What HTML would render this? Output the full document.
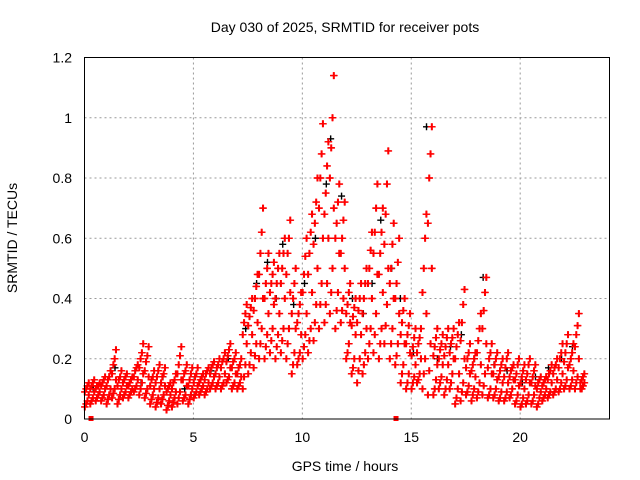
<!DOCTYPE html>
<html><head><meta charset="utf-8"><style>
body{margin:0;background:#fff}
svg{display:block;font-family:"Liberation Sans",sans-serif}
</style></head><body>
<svg id="c" width="640" height="480">
<text x="345" y="32" text-anchor="middle" font-size="14">Day 030 of 2025, SRMTID for receiver pots</text>
<text x="345" y="471" text-anchor="middle" font-size="14">GPS time / hours</text>
<text x="17" y="238" text-anchor="middle" font-size="14" transform="rotate(-90 17 238)">SRMTID / TECUs</text>
<g id="grid"></g><g id="pts"></g>
<rect x="84.5" y="57.5" width="525" height="361.5" fill="none" stroke="#000"/>
<g id="ticks"></g>
</svg>
<script>
const xTicks=[0,5,10,15,20];
const yTicks=[0,0.2,0.4,0.6,0.8,1,1.2];
const yTickLabels=["0","0.2","0.4","0.6","0.8","1","1.2"];
const times=[0,0.25,0.5,0.75,1,1.25,1.5,1.75,2,2.25,2.5,2.75,3,3.25,3.5,3.75,4,4.25,4.5,4.75,5,5.25,5.5,5.75,6,6.25,6.5,6.75,7,7.25,7.5,7.75,8,8.25,8.5,8.75,9,9.25,9.5,9.75,10,10.25,10.5,10.75,11,11.25,11.5,11.75,12,12.25,12.5,12.75,13,13.25,13.5,13.75,14,14.25,14.5,14.75,15,15.25,15.5,15.75,16,16.25,16.5,16.75,17,17.25,17.5,17.75,18,18.25,18.5,18.75,19,19.25,19.5,19.75,20,20.25,20.5,20.75,21,21.25,21.5,21.75,22,22.25,22.5,22.75];
const redHi=[0.12,0.13,0.12,0.14,0.16,0.23,0.16,0.15,0.14,0.18,0.25,0.24,0.16,0.18,0.17,0.12,0.15,0.24,0.18,0.17,0.17,0.15,0.17,0.19,0.2,0.22,0.25,0.22,0.2,0.38,0.4,0.48,0.7,0.55,0.52,0.55,0.6,0.66,0.5,0.42,0.6,0.68,0.8,0.98,0.92,1.14,0.78,0.72,0.45,0.4,0.45,0.5,0.62,0.78,0.7,0.89,0.65,0.6,0.4,0.35,0.3,0.3,0.68,0.97,0.3,0.28,0.3,0.3,0.32,0.43,0.25,0.22,0.35,0.47,0.25,0.22,0.2,0.22,0.18,0.2,0.18,0.2,0.18,0.14,0.14,0.18,0.2,0.25,0.28,0.25,0.35,0.15];
const redC=[0.11,0.12,0.11,0.13,0.14,0.2,0.14,0.14,0.13,0.17,0.22,0.21,0.14,0.16,0.15,0.11,0.13,0.21,0.16,0.15,0.15,0.14,0.16,0.18,0.18,0.2,0.23,0.2,0.18,0.35,0.37,0.44,0.62,0.5,0.48,0.5,0.55,0.6,0.45,0.38,0.54,0.62,0.72,0.88,0.84,1.0,0.72,0.66,0.42,0.37,0.4,0.45,0.56,0.7,0.62,0.78,0.58,0.52,0.36,0.31,0.27,0.27,0.6,0.88,0.27,0.25,0.27,0.27,0.28,0.38,0.22,0.2,0.3,0.42,0.22,0.2,0.18,0.2,0.17,0.18,0.16,0.18,0.16,0.13,0.13,0.16,0.18,0.22,0.25,0.22,0.31,0.14];
const redU=[0.1,0.11,0.11,0.12,0.13,0.18,0.13,0.13,0.12,0.16,0.2,0.19,0.13,0.14,0.14,0.1,0.12,0.18,0.15,0.13,0.14,0.13,0.15,0.17,0.17,0.19,0.21,0.19,0.17,0.32,0.34,0.4,0.55,0.45,0.45,0.45,0.5,0.55,0.4,0.35,0.48,0.55,0.65,0.8,0.75,0.9,0.65,0.6,0.38,0.34,0.36,0.4,0.5,0.62,0.55,0.68,0.5,0.45,0.32,0.28,0.24,0.25,0.5,0.8,0.24,0.23,0.24,0.25,0.24,0.32,0.2,0.18,0.26,0.36,0.2,0.18,0.16,0.17,0.16,0.15,0.14,0.15,0.14,0.12,0.12,0.15,0.17,0.2,0.22,0.2,0.28,0.13];
const redB=[0.09,0.1,0.1,0.11,0.11,0.15,0.11,0.12,0.11,0.14,0.17,0.16,0.11,0.12,0.12,0.09,0.1,0.15,0.13,0.11,0.12,0.12,0.13,0.15,0.15,0.17,0.19,0.17,0.15,0.28,0.31,0.36,0.48,0.4,0.42,0.4,0.45,0.48,0.35,0.32,0.42,0.48,0.58,0.7,0.68,0.8,0.6,0.55,0.35,0.31,0.32,0.35,0.45,0.55,0.48,0.58,0.45,0.4,0.28,0.25,0.21,0.22,0.42,0.65,0.21,0.2,0.21,0.22,0.2,0.26,0.17,0.16,0.22,0.3,0.17,0.15,0.14,0.14,0.14,0.13,0.12,0.13,0.12,0.1,0.11,0.13,0.15,0.17,0.19,0.18,0.24,0.12];
const redMid=[0.08,0.09,0.09,0.1,0.1,0.13,0.1,0.11,0.1,0.13,0.15,0.14,0.1,0.1,0.11,0.08,0.09,0.13,0.11,0.1,0.11,0.11,0.12,0.14,0.14,0.15,0.17,0.15,0.14,0.25,0.28,0.32,0.4,0.35,0.38,0.35,0.4,0.42,0.3,0.28,0.35,0.42,0.5,0.6,0.6,0.7,0.55,0.5,0.32,0.28,0.28,0.3,0.4,0.48,0.42,0.5,0.4,0.35,0.25,0.22,0.18,0.2,0.35,0.5,0.18,0.18,0.18,0.2,0.15,0.2,0.15,0.14,0.18,0.25,0.15,0.13,0.12,0.12,0.13,0.11,0.1,0.12,0.11,0.09,0.1,0.12,0.13,0.15,0.17,0.16,0.2,0.12];
const redQ=[0.06,0.07,0.08,0.08,0.08,0.1,0.08,0.09,0.09,0.11,0.12,0.1,0.08,0.07,0.08,0.06,0.07,0.09,0.08,0.08,0.09,0.1,0.1,0.12,0.12,0.12,0.14,0.12,0.12,0.18,0.22,0.25,0.3,0.28,0.3,0.28,0.3,0.3,0.22,0.22,0.28,0.3,0.38,0.45,0.45,0.5,0.42,0.4,0.25,0.2,0.2,0.22,0.3,0.35,0.3,0.38,0.3,0.25,0.18,0.15,0.14,0.15,0.2,0.25,0.13,0.14,0.13,0.15,0.1,0.12,0.11,0.1,0.12,0.15,0.1,0.1,0.09,0.09,0.1,0.08,0.07,0.08,0.08,0.07,0.08,0.09,0.1,0.12,0.13,0.13,0.14,0.11];
const redA=[0.05,0.06,0.07,0.07,0.065,0.085,0.065,0.08,0.08,0.1,0.1,0.085,0.065,0.055,0.065,0.045,0.055,0.07,0.07,0.065,0.08,0.09,0.09,0.11,0.11,0.11,0.13,0.11,0.11,0.14,0.18,0.21,0.25,0.24,0.26,0.24,0.26,0.25,0.18,0.2,0.24,0.26,0.32,0.38,0.38,0.42,0.36,0.36,0.22,0.17,0.16,0.18,0.25,0.28,0.25,0.31,0.25,0.21,0.15,0.12,0.12,0.13,0.15,0.16,0.1,0.12,0.1,0.12,0.07,0.09,0.09,0.08,0.09,0.11,0.08,0.08,0.07,0.07,0.08,0.06,0.05,0.06,0.06,0.05,0.07,0.08,0.09,0.1,0.11,0.11,0.12,0.1];
const redLo=[0.04,0.05,0.06,0.06,0.05,0.07,0.05,0.07,0.07,0.09,0.08,0.07,0.05,0.04,0.05,0.03,0.04,0.05,0.06,0.05,0.07,0.08,0.08,0.1,0.1,0.1,0.12,0.1,0.1,0.1,0.15,0.17,0.2,0.2,0.22,0.2,0.22,0.2,0.15,0.18,0.2,0.22,0.26,0.3,0.32,0.35,0.3,0.32,0.2,0.15,0.12,0.15,0.2,0.22,0.2,0.25,0.2,0.18,0.12,0.1,0.1,0.12,0.1,0.08,0.08,0.1,0.08,0.1,0.05,0.06,0.08,0.06,0.07,0.08,0.07,0.07,0.06,0.06,0.07,0.05,0.04,0.05,0.05,0.04,0.06,0.07,0.08,0.09,0.1,0.1,0.1,0.1];
const blackT=[0.4,1.4,2.6,3.6,4.6,5.8,6.6,7.4,7.9,8.4,8.8,9.1,9.6,10.1,10.6,11.1,11.3,11.8,12.3,12.8,13.2,13.6,14.1,14.5,15.1,15.7,16.2,16.8,17.3,17.9,18.3,18.8,19.4,20.1,20.7,21.3,21.9,22.4];
const blackV=[0.1,0.17,0.12,0.14,0.1,0.16,0.2,0.3,0.45,0.52,0.4,0.58,0.38,0.45,0.6,0.78,0.93,0.74,0.4,0.35,0.45,0.66,0.5,0.4,0.22,0.97,0.2,0.24,0.28,0.2,0.47,0.18,0.16,0.12,0.14,0.17,0.2,0.24];
const squaresT=[0.3,14.3];
const x=h=>84.5+h*(525/24.1);
const y=v=>419-v*(361.5/1.2);
const NS="http://www.w3.org/2000/svg";
const g=document.getElementById('grid'),t=document.getElementById('ticks'),p=document.getElementById('pts');
function mk(tag,at,par){const e=document.createElementNS(NS,tag);for(const k in at)e.setAttribute(k,at[k]);par.appendChild(e);return e;}
xTicks.forEach(v=>{
 const l=mk('line',{x1:x(v),x2:x(v),y1:57.5,y2:419,stroke:'#999','stroke-dasharray':'2,3'},g);
 
 
 const tx=mk('text',{x:x(v),y:442,'text-anchor':'middle','font-size':'14'},t);tx.textContent=v;
 
 
});
yTicks.forEach((v,i)=>{
 const l=mk('line',{x1:84.5,x2:609.5,y1:y(v),y2:y(v),stroke:'#999','stroke-dasharray':'2,3'},g);
 
 
 const tx=mk('text',{x:72,y:y(v)+5,'text-anchor':'end','font-size':'14'},t);tx.textContent=yTickLabels[i];
 
 
});
function cross(h,v,col){
 const e=mk('path',{d:`M${x(h)-3.5},${y(v)}h7M${x(h)},${y(v)-3.5}v7`,stroke:col,'stroke-width':'1.4',fill:'none'},p);
 
 
}
blackT.forEach((h,i)=>cross(h,blackV[i],'#000'));
const offsets=[0,0.06,0.12,0.18,0.03,0.09,0.15,0.21];
times.forEach((h,i)=>{
 [redLo,redA,redQ,redMid,redB,redU,redC,redHi].forEach((arr,k)=>{
  if(arr[i]===undefined)return;
  cross(h+offsets[k],arr[i],'#f00');
  cross(h+offsets[(k+4)%8],arr[i],'#f00');
 });
});
squaresT.forEach(h=>{
 const r=mk('rect',{x:x(h)-2.5,y:416,width:5,height:5,fill:'#f00'},p);
 
 
});
</script>
</body></html>
